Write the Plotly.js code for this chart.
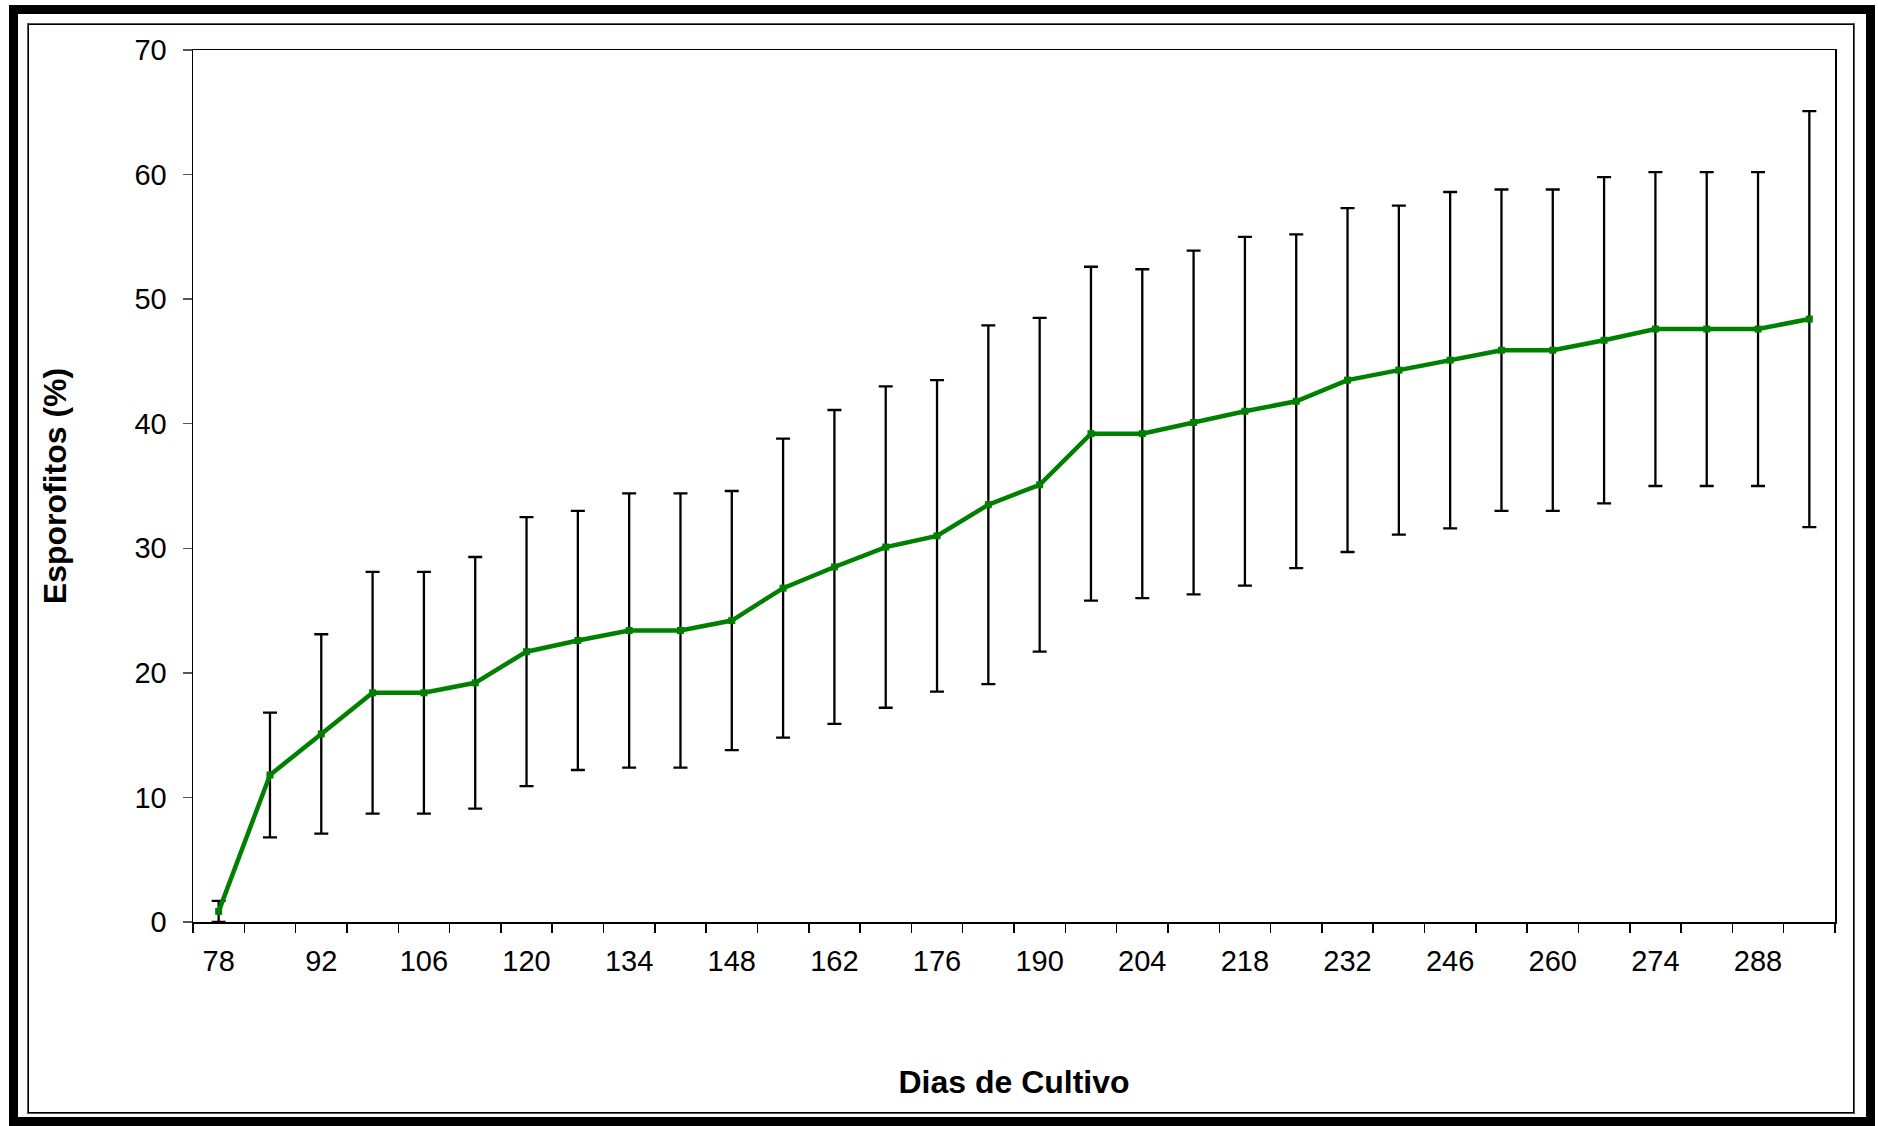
<!DOCTYPE html>
<html>
<head>
<meta charset="utf-8">
<script src="https://cdn.plot.ly/plotly-3.0.1.min.js"></script>
<style>
  html, body { margin: 0; padding: 0; background: #fff; overflow: hidden; }
  #wrap { position: relative; width: 1878px; height: 1126px; }
  #outer { position: absolute; left: 9px; top: 5px; width: 1848px; height: 1103px; border: 9px solid #000; }
  #inner { position: absolute; left: 27px; top: 23px; width: 1826px; height: 1089px; border: 1px solid #555; box-shadow: inset 0 0 0 1px #000; }
  #chart { position: absolute; left: 0; top: 0; width: 1878px; height: 1126px; }
</style>
</head>
<body>
<div id="wrap">
  <div id="outer"></div>
  <div id="inner"></div>
  <div id="chart"></div>
</div>
<script>
// Days of culture (categories)
const days = [78, 85, 92, 99, 106, 113, 120, 127, 134, 141, 148, 155, 162, 169, 176, 183,
              190, 197, 204, 211, 218, 225, 232, 239, 246, 253, 260, 267, 274, 281, 288, 295];
// Mean sporophytes (%)
const esporofitos = [0.85, 11.8, 15.1, 18.4, 18.4, 19.2, 21.7, 22.6, 23.4, 23.4, 24.2, 26.8,
                     28.5, 30.1, 31.0, 33.5, 35.1, 39.2, 39.2, 40.1, 41.0, 41.8, 43.5, 44.3,
                     45.1, 45.9, 45.9, 46.7, 47.6, 47.6, 47.6, 48.4];
// Error (+/-)
const erro = [0.85, 5.0, 8.0, 9.7, 9.7, 10.1, 10.8, 10.4, 11.0, 11.0, 10.4, 12.0,
              12.6, 12.9, 12.5, 14.4, 13.4, 13.4, 13.2, 13.8, 14.0, 13.4, 13.8, 13.2,
              13.5, 12.9, 12.9, 13.1, 12.6, 12.6, 12.6, 16.7];
// Tick labels: every second day
const tickDays = days.filter((d, i) => i % 2 === 0);

const step = days[1] - days[0];
const boundaries = days.map(d => d - step / 2).concat([days[days.length - 1] + step / 2]);

const trace = {
  x: days,
  y: esporofitos,
  type: 'scatter',
  mode: 'lines+markers',
  line: { color: '#008000', width: 4.5 },
  marker: { color: '#008000', symbol: 'square', size: 7 },
  error_y: { type: 'data', array: erro, visible: true, color: '#000', thickness: 2.3, width: 7 },
  hoverinfo: 'x+y'
};

const fontFam = 'Liberation Sans, Arial, Helvetica, sans-serif';

const layout = {
  width: 1878,
  height: 1126,
  paper_bgcolor: 'rgba(0,0,0,0)',
  plot_bgcolor: '#fff',
  showlegend: false,
  margin: { l: 193, r: 43, t: 50, b: 204 },
  font: { family: fontFam, color: '#000', size: 29 },
  xaxis: {
    type: 'linear',
    range: [boundaries[0], boundaries[boundaries.length - 1]],
    tickmode: 'array',
    tickvals: tickDays,
    ticktext: tickDays.map(String),
    ticks: '',
    ticklabelstandoff: 13,
    tickfont: { size: 29, family: fontFam, color: '#000' },
    minor: { tickmode: 'array', tickvals: boundaries, ticks: 'outside', ticklen: 9, tickwidth: 1.5, tickcolor: '#000' },
    showline: true, linecolor: '#000', linewidth: 1.5, mirror: true,
    showgrid: false, zeroline: false,
    title: { text: 'Dias de Cultivo', font: { size: 32, family: fontFam, color: '#000', weight: 'bold' }, standoff: 94 }
  },
  yaxis: {
    range: [0, 70],
    tickmode: 'linear', tick0: 0, dtick: 10,
    ticks: 'outside', ticklen: 9, tickwidth: 1.5, tickcolor: '#555',
    ticklabelstandoff: 10,
    tickfont: { size: 29, family: fontFam, color: '#000' },
    showline: true, linecolor: '#000', linewidth: 1.5, mirror: true,
    showgrid: false, zeroline: false,
    title: { text: 'Esporofitos (%)', font: { size: 32, family: fontFam, color: '#000', weight: 'bold' }, standoff: 58 }
  }
};

Plotly.newPlot('chart', [trace], layout, { staticPlot: true, displayModeBar: false });
</script>
</body>
</html>
